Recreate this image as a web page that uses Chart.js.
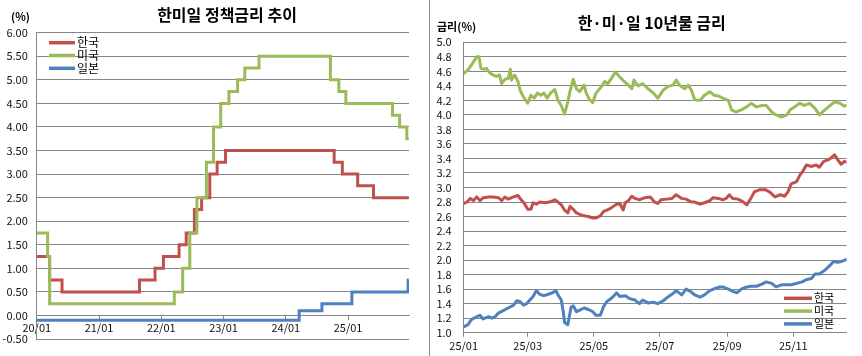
<!DOCTYPE html>
<html><head><meta charset="utf-8">
<script src="https://cdn.jsdelivr.net/npm/chart.js@4/dist/chart.umd.min.js"></script>
<style>
html,body{margin:0;padding:0;background:#fff;}
#wrap{position:relative;width:862px;height:356px;overflow:hidden;background:#fff;}
#c1{position:absolute;left:0;top:0;}
#c2{position:absolute;left:430px;top:0;}
#sep{position:absolute;left:429px;top:0;width:1px;height:356px;background:#8c8c8c;}
</style></head><body>
<div id="wrap"><canvas id="c1" width="428" height="356"></canvas><div id="sep"></div><canvas id="c2" width="432" height="356"></canvas></div>
<script>
// ===== Left chart: policy rates (step data: date of change -> new rate) =====
const policySeriesNames = ['한국', '미국', '일본'];
const policyTickLabels = ['20/01', '21/01', '22/01', '23/01', '24/01', '25/01'];
const krPolicyDates = ['2020-01-01','2020-03-16','2020-05-28','2021-08-26','2021-11-25','2022-01-14','2022-04-14','2022-05-26','2022-07-13','2022-08-25','2022-10-12','2022-11-24','2023-01-13','2024-10-11','2024-11-28','2025-02-25','2025-05-29','2025-12-23'];
const krPolicyRates = [1.25,0.75,0.50,0.75,1.00,1.25,1.50,1.75,2.25,2.50,3.00,3.25,3.50,3.25,3.00,2.75,2.50,2.50];
const usPolicyDates = ['2020-01-01','2020-03-04','2020-03-16','2022-03-17','2022-05-05','2022-06-16','2022-07-28','2022-09-22','2022-11-03','2022-12-15','2023-02-02','2023-03-23','2023-05-04','2023-07-27','2024-09-19','2024-11-08','2024-12-19','2025-09-18','2025-10-30','2025-12-11','2025-12-23'];
const usPolicyRates = [1.75,1.25,0.25,0.50,1.00,1.75,2.50,3.25,4.00,4.50,4.75,5.00,5.25,5.50,5.00,4.75,4.50,4.25,4.00,3.75,3.75];
const jpPolicyDates = ['2020-01-01','2024-03-19','2024-07-31','2025-01-24','2025-12-19','2025-12-23'];
const jpPolicyRates = [-0.10,0.10,0.25,0.50,0.75,0.75];

// ===== Right chart: 10-year yields 2025 (days since 2025-01-01) =====
const yieldSeriesNames = ['한국', '미국', '일본'];
const yieldTickLabels = ['25/01', '25/03', '25/05', '25/07', '25/09', '25/11'];
const krDays = [0,3,6,9,12,15,18,23,27,32,35,38,41,46,50,53,56,59,62,64,67,70,75,79,84,87,90,93,96,98,101,104,107,111,115,119,122,126,129,132,135,138,141,144,147,149,152,155,158,162,167,172,176,179,182,187,192,196,201,205,210,213,218,222,227,230,235,239,242,245,248,253,258,261,264,268,273,278,282,287,292,296,299,302,307,310,313,316,321,325,328,332,336,339,342,345,348,351,353];
const krYield = [2.78,2.80,2.85,2.82,2.87,2.82,2.86,2.87,2.87,2.86,2.82,2.87,2.84,2.87,2.89,2.83,2.78,2.70,2.70,2.79,2.77,2.80,2.79,2.80,2.83,2.80,2.76,2.69,2.65,2.74,2.70,2.65,2.63,2.61,2.60,2.58,2.58,2.61,2.67,2.69,2.71,2.74,2.77,2.78,2.69,2.79,2.82,2.88,2.85,2.83,2.86,2.87,2.80,2.78,2.83,2.84,2.85,2.90,2.85,2.84,2.80,2.80,2.77,2.79,2.82,2.86,2.85,2.83,2.85,2.90,2.85,2.84,2.80,2.76,2.83,2.94,2.97,2.97,2.94,2.87,2.90,2.88,2.94,3.05,3.08,3.17,3.23,3.31,3.29,3.31,3.28,3.36,3.38,3.41,3.45,3.38,3.32,3.36,3.35];
const usDays = [0,4,9,12,14,16,18,21,24,27,30,33,35,38,41,43,44,47,50,52,55,59,62,65,68,71,74,77,80,84,87,90,93,96,98,101,104,107,111,113,116,119,122,127,130,133,136,140,144,148,152,155,157,161,165,170,175,179,184,188,193,196,199,204,207,210,213,218,222,227,231,235,239,244,247,251,256,261,265,270,275,279,284,288,293,298,301,305,310,314,319,324,328,333,338,342,347,351,353];
const usYield = [4.57,4.62,4.73,4.80,4.80,4.64,4.63,4.64,4.58,4.55,4.53,4.55,4.43,4.49,4.50,4.63,4.48,4.55,4.46,4.34,4.25,4.16,4.27,4.23,4.30,4.27,4.30,4.23,4.30,4.35,4.20,4.13,4.01,4.18,4.32,4.49,4.36,4.32,4.41,4.30,4.21,4.17,4.30,4.39,4.46,4.43,4.50,4.59,4.52,4.46,4.41,4.36,4.48,4.40,4.43,4.36,4.30,4.23,4.34,4.39,4.41,4.48,4.41,4.36,4.41,4.34,4.21,4.20,4.27,4.32,4.27,4.26,4.23,4.20,4.07,4.04,4.07,4.11,4.16,4.11,4.13,4.13,4.04,4.00,3.97,4.00,4.07,4.11,4.16,4.13,4.16,4.09,4.00,4.07,4.13,4.18,4.16,4.12,4.13];
const jpDays = [0,4,7,12,15,18,23,26,29,32,36,41,46,49,52,55,58,61,64,67,70,74,78,82,85,87,90,92,93,96,99,101,104,107,111,115,119,122,126,129,132,135,138,141,144,149,153,158,162,165,170,175,179,184,189,193,196,201,205,209,213,218,222,227,232,236,239,244,248,252,256,261,265,270,275,279,284,288,293,298,302,307,312,316,321,324,328,333,338,341,345,348,353];
const jpYield = [1.08,1.11,1.18,1.22,1.24,1.19,1.22,1.20,1.22,1.27,1.30,1.34,1.38,1.44,1.43,1.38,1.40,1.45,1.50,1.58,1.53,1.51,1.53,1.55,1.58,1.52,1.45,1.27,1.14,1.11,1.35,1.37,1.29,1.31,1.34,1.32,1.29,1.24,1.24,1.36,1.43,1.46,1.50,1.55,1.50,1.51,1.47,1.45,1.40,1.45,1.41,1.42,1.40,1.44,1.50,1.54,1.58,1.52,1.60,1.57,1.52,1.49,1.52,1.58,1.61,1.63,1.63,1.60,1.57,1.55,1.60,1.63,1.64,1.64,1.67,1.70,1.68,1.63,1.66,1.66,1.66,1.68,1.70,1.73,1.75,1.81,1.81,1.86,1.93,1.98,1.97,1.98,2.01];

// ===== helpers =====
const FONT = "'Noto Sans CJK KR', 'Noto Sans', sans-serif";
const COLORS = ['#c0504d', '#9bbb59', '#4f81bd'];
const GRID = '#868686';
function monthIndex(s) {
  const [y, m, d] = s.split('-').map(Number);
  const dim = new Date(y, m, 0).getDate();
  return (y - 2020) * 12 + (m - 1) + (d - 1) / dim;
}
function dayOfYear2025(label) {
  const m = Number(label.split('/')[1]);
  return Math.round((Date.UTC(2025, m - 1, 1) - Date.UTC(2025, 0, 1)) / 86400000);
}
function decor(cfg) {
  return {
    id: 'decor',
    afterDraw(chart) {
      const ctx = chart.ctx;
      ctx.save();
      ctx.fillStyle = '#000';
      ctx.textBaseline = 'middle';
      ctx.font = 'bold 16px ' + FONT;
      ctx.textAlign = 'center';
      ctx.fillText(cfg.title, cfg.titleX, cfg.titleY);
      ctx.font = 'bold 11px ' + FONT;
      ctx.textAlign = 'left';
      ctx.fillText(cfg.unit, cfg.unitX, cfg.unitY);
      chart.data.datasets.forEach((ds, i) => {
        const y = cfg.legY + i * cfg.legGap;
        ctx.strokeStyle = ds.borderColor;
        ctx.lineWidth = 3.5;
        ctx.beginPath();
        ctx.moveTo(cfg.legX, y);
        ctx.lineTo(cfg.legX + cfg.legLen, y);
        ctx.stroke();
        ctx.font = cfg.legFont + 'px ' + FONT;
        ctx.fillStyle = '#000';
        ctx.fillText(ds.label, cfg.legX + cfg.legLen + 2, y);
      });
      ctx.restore();
    }
  };
}
Chart.defaults.font.family = FONT;
Chart.defaults.color = '#111';

// ===== Left chart =====
const polSets = [[krPolicyDates, krPolicyRates], [usPolicyDates, usPolicyRates], [jpPolicyDates, jpPolicyRates]];
new Chart(document.getElementById('c1'), {
  type: 'line',
  data: {
    datasets: polSets.map(([dates, rates], i) => ({
      label: policySeriesNames[i],
      data: dates.map((d, k) => ({ x: monthIndex(d), y: rates[k] })),
      borderColor: COLORS[i],
      backgroundColor: COLORS[i],
      borderWidth: 3,
      stepped: true,
      pointRadius: 0,
      order: 3 - i
    }))
  },
  options: {
    responsive: false, animation: false, devicePixelRatio: 1,
    layout: { padding: { left: 0, right: 19, top: 32.7, bottom: 17 } },
    plugins: { legend: { display: false }, tooltip: { enabled: false } },
    scales: {
      x: {
        type: 'linear', min: 0, max: 71.75,
        position: { y: 0 },
        afterBuildTicks: (s) => { s.ticks = policyTickLabels.map((_, i) => ({ value: i * 12 })); },
        ticks: { callback: (v, i) => policyTickLabels[i], maxRotation: 0, autoSkip: false, padding: 2, font: { size: 11 }, color: '#111' },
        grid: { drawOnChartArea: false, drawTicks: true, tickLength: 4, color: GRID },
        border: { display: true, color: GRID, width: 1 }
      },
      y: {
        min: -0.5, max: 6,
        afterFit: (s) => { s.width = 36.75; },
        ticks: { stepSize: 0.5, autoSkip: false, callback: (v) => v.toFixed(2), padding: 9, font: { size: 11 }, color: '#111' },
        grid: { color: GRID, drawTicks: false },
        border: { display: true, color: GRID }
      }
    }
  },
  plugins: [decor({ title: '한미일 정책금리 추이', titleX: 227, titleY: 15, unit: '(%)', unitX: 11, unitY: 16.5,
    legX: 49, legLen: 26, legY: 42.7, legGap: 12.8, legFont: 12 })]
});

// ===== Right chart =====
const ySets = [[krDays, krYield], [usDays, usYield], [jpDays, jpYield]];
new Chart(document.getElementById('c2'), {
  type: 'line',
  data: {
    datasets: ySets.map(([days, vals], i) => ({
      label: yieldSeriesNames[i],
      data: days.map((d, k) => ({ x: d, y: vals[k] })),
      borderColor: COLORS[i],
      backgroundColor: COLORS[i],
      borderWidth: 3,
      borderJoinStyle: 'round',
      borderCapStyle: 'round',
      pointRadius: 0,
      tension: 0,
      order: 3 - i
    }))
  },
  options: {
    responsive: false, animation: false, devicePixelRatio: 1,
    layout: { padding: { left: 0, right: 15.5, top: 42.3, bottom: 3.3 } },
    plugins: { legend: { display: false }, tooltip: { enabled: false } },
    scales: {
      x: {
        type: 'linear', min: 0, max: 353,
        afterFit: (s) => { s.height = 20; },
        afterBuildTicks: (s) => { s.ticks = yieldTickLabels.map(l => ({ value: dayOfYear2025(l) })); },
        ticks: { callback: (v, i) => yieldTickLabels[i], maxRotation: 0, autoSkip: false, padding: 3, font: { size: 11 }, color: '#111' },
        grid: { drawOnChartArea: false, drawTicks: true, tickLength: 4, color: GRID },
        border: { display: true, color: GRID }
      },
      y: {
        min: 1, max: 5,
        afterFit: (s) => { s.width = 33.7; },
        ticks: { stepSize: 0.2, autoSkip: false, callback: (v) => v.toFixed(1), padding: 12, font: { size: 11 }, color: '#111' },
        grid: { color: GRID, drawTicks: false },
        border: { display: true, color: GRID }
      }
    }
  },
  plugins: [decor({ title: '한·미·일 10년물 금리', titleX: 221.7, titleY: 23, unit: '금리(%)', unitX: 7, unitY: 26.5,
    legX: 354, legLen: 28, legY: 298.3, legGap: 12.8, legFont: 11 })]
});
</script>
</body></html>
